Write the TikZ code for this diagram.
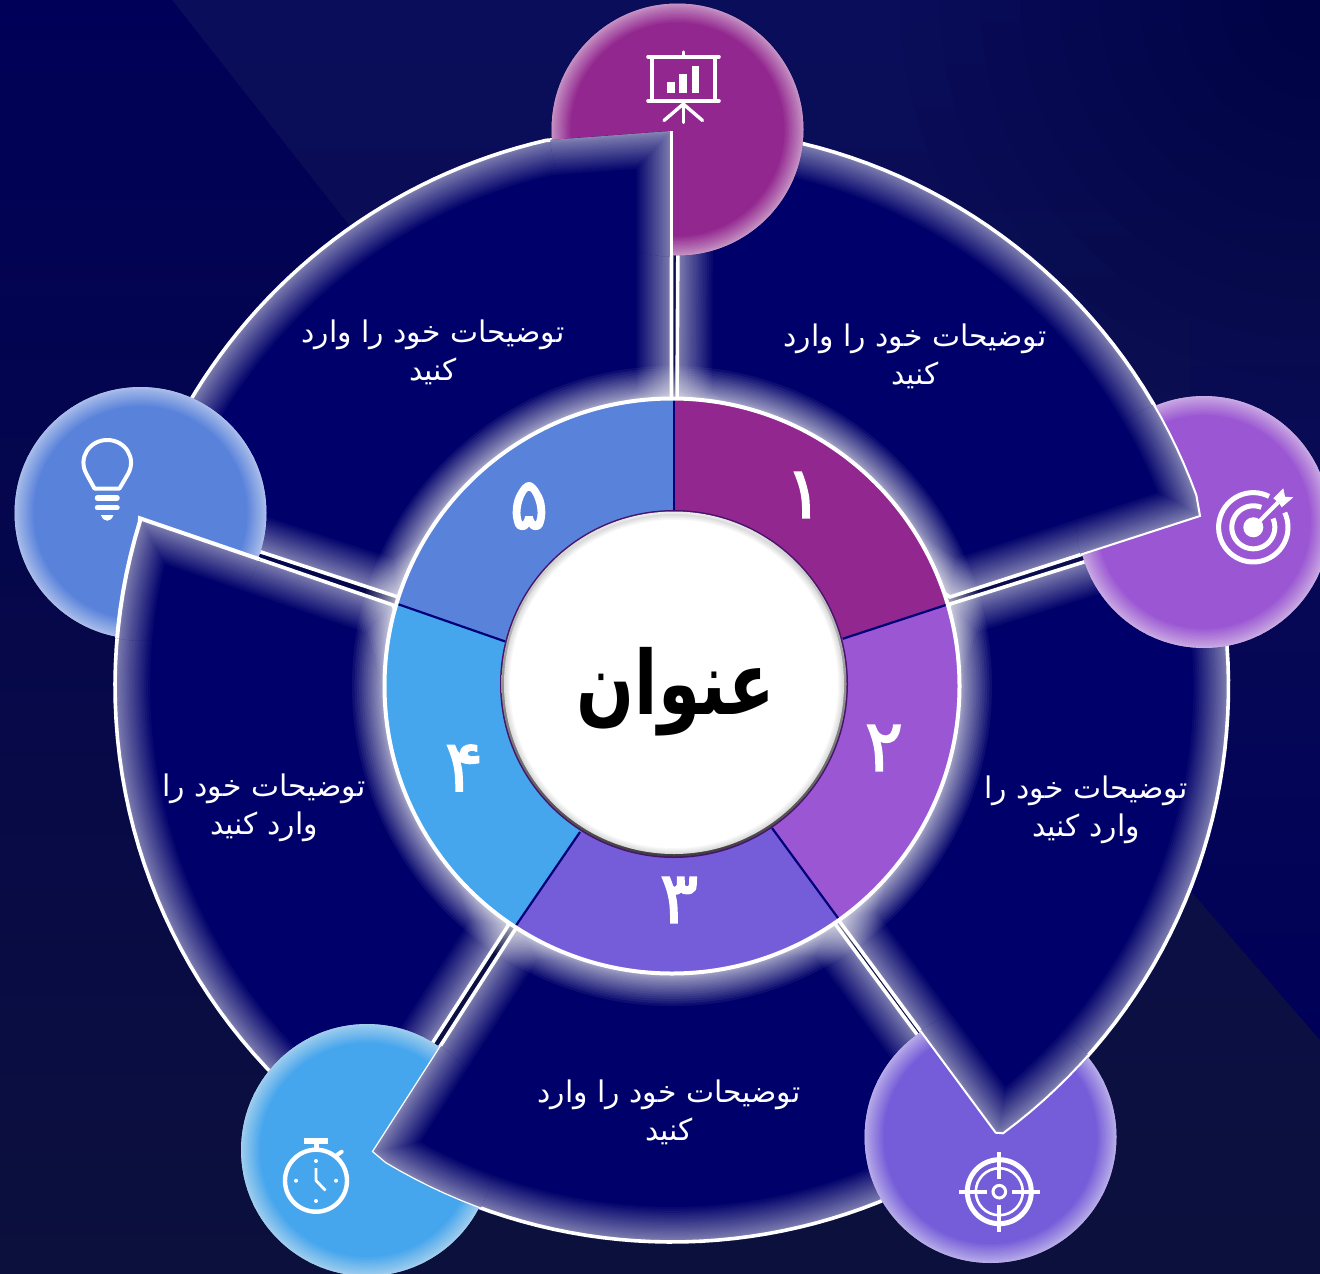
\documentclass[tikz,border=0pt]{standalone}
\usepackage{graphicx}
\usepackage{fontspec}
\TeXXeTstate=1
\newfontfamily\fa[Script=Arabic]{DejaVu Sans}
\newfontfamily\fadigit[Script=Arabic,FakeBold=2]{DejaVu Sans}
\definecolor{cA}{HTML}{92278F}
\definecolor{cB}{HTML}{9B57D3}
\definecolor{cC}{HTML}{755DD9}
\definecolor{cD}{HTML}{45A5ED}
\definecolor{cE}{HTML}{5982DB}
\definecolor{wedgeNavy}{HTML}{00006A}
\definecolor{sepNavy}{HTML}{000078}
\definecolor{bgTop}{HTML}{0A0D5A}
\definecolor{bgBot}{HTML}{0C103C}
\definecolor{bgLeft}{HTML}{000058}
\def\SA{(677,410) -- (678.5,130) -- plot[domain=-89:-20,samples=40] ({672+558*cos(\x)},{686+558*sin(\x)}) -- (1200,516) -- (950,597) -- cycle}
\def\SB{(950,604) -- (1208,523) -- plot[domain=-16.9:53.5,samples=40] ({672+556.5*cos(\x)},{686+556.5*sin(\x)}) -- (995.7,1132.7) -- (837,918) -- cycle}
\def\SC{(833,921) -- (990,1133) -- plot[domain=54.7:121,samples=40] ({672+556*cos(\x)},{686+556*sin(\x)}) -- (372.5,1151.5) -- (518,925) -- cycle}
\def\SD{(508.5,925) -- (363.5,1150) -- plot[domain=123.6:197.2,samples=40] ({672+557*cos(\x)},{686+557*sin(\x)}) -- (140,518.3) -- (393,605) -- cycle}
\def\SE{(398,597) -- (136,511) -- plot[domain=198:257,samples=40] ({672+560*cos(\x)},{686+560*sin(\x)}) -- (671.5,131) -- (671.5,410) -- cycle}
\def\CA{(677.5,129.5) circle[radius=126]}
\def\CB{(1204,522) circle[radius=126]}
\def\CC{(990.5,1137) circle[radius=126]}
\def\CD{(367,1150) circle[radius=126]}
\def\CE{(140.5,513) circle[radius=126]}
\def\CAx{(677.5,129.5) circle[radius=127.5]}
\def\CBx{(1204,522) circle[radius=127.5]}
\def\CCx{(990.5,1137) circle[radius=127.5]}
\def\CDx{(367,1150) circle[radius=127.5]}
\def\CEx{(140.5,513) circle[radius=127.5]}
% path, largest stroke width, number of layers, opacity of a layer
\newcommand\glowlayers[4]{\foreach \i in {1,...,#3}{\pgfmathsetmacro\w{#2*(\i/#3)^1.5}\draw[white,opacity=#4,line width=\w pt,line join=round] #1;}}
\newcommand\wedgeglow[1]{\begin{scope}\clip #1; \fill[wedgeNavy] #1; \glowlayers{#1}{70}{26}{.03}\end{scope}}
\newcommand\wedgebody[2]{\wedgeglow{#1}\draw[white,line width=#2 pt,line join=miter] #1;}
\newcommand\disc[2]{\fill[#2] #1;\begin{scope}\clip #1;\glowlayers{#1}{38}{18}{.042}\end{scope}}
\newcommand\overlap[3]{\begin{scope}\clip #2;\wedgebody{#1}{#3}\end{scope}}
\tikzset{
  desc/.style={text=white,align=center,font=\fa\fontsize{29.8}{38}\selectfont,inner sep=0pt},
  digit/.style={text=white,font=\fadigit\fontsize{72}{72}\selectfont,inner sep=0pt},
  icon/.style={white,line cap=round,line join=round},
}
\begin{document}
\begin{tikzpicture}[x=1pt,y=-1pt]
\useasboundingbox (0,0) rectangle (1320,1274);
\clip (0,0) rectangle (1320,1274);
% background
\shade[top color=bgTop,bottom color=bgBot] (0,0) rectangle (1320,1274);
\shade[top color=bgLeft,bottom color=bgBot] (0,0) -- (172,0) -- (400,290) -- (400,1274) -- (0,1274) -- cycle;
\shade[top color=bgTop!76!bgBot,bottom color=bgLeft] (1190,890) -- (1320,1040) -- (1320,300) -- (1190,300) -- cycle;
\foreach \r in {60,100,140,180,220,260,300,340,380,420}{\fill[black,opacity=.02] (1320,0) circle[radius=\r];}
% wedges
\wedgebody{\SB}{3.6}
\wedgebody{\SC}{3.6}
\wedgebody{\SD}{3.6}
\wedgebody{\SE}{3.6}
\wedgebody{\SA}{3.6}
% circles
\disc{\CA}{cA}
\disc{\CB}{cB}
\disc{\CC}{cC}
\disc{\CD}{cD}
\disc{\CE}{cE}
% wedge parts lying over circles
\overlap{\SA}{\CBx}{2}
\overlap{\SB}{\CCx}{2}
\overlap{\SC}{\CDx}{1.2}
\overlap{\SD}{\CEx}{4}
\begin{scope}\clip \CAx;
  \wedgeglow{\SE}
  \draw[white,line width=3pt] (671.5,131) -- (671.5,260);
\end{scope}
% glow round ring
\foreach \i in {1,...,18}{\pgfmathsetmacro\r{290+30*(\i/18)^1.5}\fill[white,opacity=.055] (672,686) circle[radius=\r];}
% ring
\begin{scope}
\clip (672,686) circle[radius=288];
\fill[cA] (674,685) -- (674,510) -- (674,380) -- (998,453) -- (966.7,598.2) -- (842.6,638.8) -- cycle;
\fill[cB] (674,685) -- (842.6,638.8) -- (966.7,598.2) -- (1054,808) -- (851.2,936) -- (772,828) -- cycle;
\fill[cC] (674,685) -- (772,828) -- (851.2,936) -- (674,1085) -- (504.4,942.4) -- (580,832) -- cycle;
\fill[cD] (674,685) -- (580,832) -- (504.4,942.4) -- (294,808) -- (376,596.5) -- (505,641.4) -- cycle;
\fill[cE] (674,685) -- (505,641.4) -- (376,596.5) -- (350,450) -- (674,380) -- (674,510) -- cycle;
\draw[sepNavy,line width=2.2pt] (674,510) -- (674,380);
\draw[sepNavy,line width=2.2pt] (842.6,638.8) -- (966.7,598.2);
\draw[sepNavy,line width=2.2pt] (772,828) -- (851.2,936);
\draw[sepNavy,line width=2.2pt] (580,832) -- (504.4,942.4);
\draw[sepNavy,line width=2.2pt] (505,641.4) -- (376,596.5);
\end{scope}
\draw[white,line width=4pt] (672,686) circle[radius=287.5];
% centre
\fill[black!30!cA!70!sepNavy] (674,684) circle[radius=174];
\shade[shading angle=135,top color=black!8,bottom color=black!75] (674,684) circle[radius=172.5];
\fill[white] (674,684) circle[radius=170];
\begin{scope}\clip (674,684) circle[radius=170];
\foreach \w in {2,4,6,8,10,12}{\draw[black,opacity=.025,line width=\w pt] (674,684) circle[radius=170];}
\end{scope}
\node[text=black,inner sep=0pt,font=\fa\bfseries\fontsize{68}{68}\selectfont] (title) at (676,692) {\scalebox{1}[1.3]{\beginR عنوان\endR}};
% digits
\node[digit] (n1) at (804,495) {\beginR ۱\endR};
\node[digit] (n2) at (884,748) {\beginR ۲\endR};
\node[digit] (n3) at (679,900) {\beginR ۳\endR};
\node[digit] (n4) at (464,768) {\beginR ۴\endR};
\node[digit] (n5) at (529,506) {\beginR ۵\endR};
% descriptions
\node[desc] (d1) at (915,356.5) {\beginR توضیحات خود را وارد\endR\\\beginR کنید\endR};
\node[desc] (d2) at (1086,810) {\beginR توضیحات خود را\endR\\\beginR وارد کنید\endR};
\node[desc] (d3) at (669,1112) {\beginR توضیحات خود را وارد\endR\\\beginR کنید\endR};
\node[desc] (d4) at (264,807.5) {\beginR توضیحات خود را\endR\\\beginR وارد کنید\endR};
\node[desc] (d5) at (433,352.5) {\beginR توضیحات خود را وارد\endR\\\beginR کنید\endR};
% icon 1: board
\draw[icon,line width=3.6pt] (648,56.7) -- (719,56.7);
\draw[icon,line width=3.6pt] (648,100.7) -- (719,100.7);
\draw[icon,line width=3.4pt] (683.3,52) -- (683.3,56);
\draw[icon,line width=3.8pt,line cap=butt] (651.8,56.7) -- (651.8,100.7);
\draw[icon,line width=3.8pt,line cap=butt] (715,56.7) -- (715,100.7);
\fill[white] (667.3,81.7) rectangle (675,93.3);
\fill[white] (679.3,74.3) rectangle (687,93.3);
\fill[white] (691.7,65.7) rectangle (699,93.3);
\draw[icon,line width=3.4pt] (683.3,103) -- (683.3,122.5);
\draw[icon,line width=3.4pt] (683.3,104) -- (664,120.5);
\draw[icon,line width=3.4pt] (683.3,104) -- (702.5,120.5);
% icon 2: target
\draw[white,line width=5pt] plot[domain=-63:-385,samples=50] ({1253.3+34.7*cos(\x)},{527.3+34.7*sin(\x)});
\draw[white,line width=5pt] plot[domain=-68:-384,samples=50] ({1253.3+21.5*cos(\x)},{527.3+21.5*sin(\x)});
\fill[white] (1253.3,527.3) circle[radius=10];
\draw[white,line width=4pt] (1253.3,527.3) -- (1278,502.5);
\fill[white] (1273.3,498.3) -- (1283.3,488.3) -- (1285,496.7) -- (1293.3,497.3) -- (1281.7,507.3) -- (1279,503) -- cycle;
% icon 3: crosshair
\draw[white,line width=5pt] (999.3,1191.7) circle[radius=32];
\draw[white,line width=2.6pt] (999.3,1191.7) circle[radius=23.5];
\draw[white,line width=3pt] (999.3,1191.7) circle[radius=6.3];
\draw[white,line width=4pt] (959,1191.7) -- (986.5,1191.7);
\draw[white,line width=4pt] (1012,1191.7) -- (1040,1191.7);
\draw[white,line width=4pt] (999.3,1151.5) -- (999.3,1179);
\draw[white,line width=4pt] (999.3,1204.5) -- (999.3,1232);
% icon 4: stopwatch
\draw[white,line width=4.4pt] (316,1180.7) circle[radius=31];
\fill[white] (304,1138.3) rectangle (327.7,1144.3);
\draw[white,line width=5pt] (316,1144) -- (316,1150);
\draw[icon,line width=4pt] (336,1155.7) -- (341.7,1151.7);
\draw[icon,line width=2.8pt,line cap=butt] (316,1168) -- (316,1180.5) -- (325.5,1190.5);
\foreach \a/\b in {316/1161,316/1201,296/1180.7,336/1180.7}{\fill[white] (\a,\b) circle[radius=2];}
% icon 5: bulb
\draw[icon,line width=4pt] (94.5,488.5) -- (119.5,488.5) -- (128,474) .. controls (137,458) and (125,440) .. (107.3,440) .. controls (89.5,440) and (77.5,458) .. (86.5,474) -- cycle;
\draw[icon,line width=5.5pt] (97.5,498) -- (117,498);
\draw[icon,line width=5.5pt] (97.5,507.7) -- (117,507.7);
\fill[white] (101,515) -- (113.5,515) .. controls (112,519) and (110,520.7) .. (107.3,520.7) .. controls (104.5,520.7) and (102.5,519) .. cycle;
\end{tikzpicture}
\end{document}
